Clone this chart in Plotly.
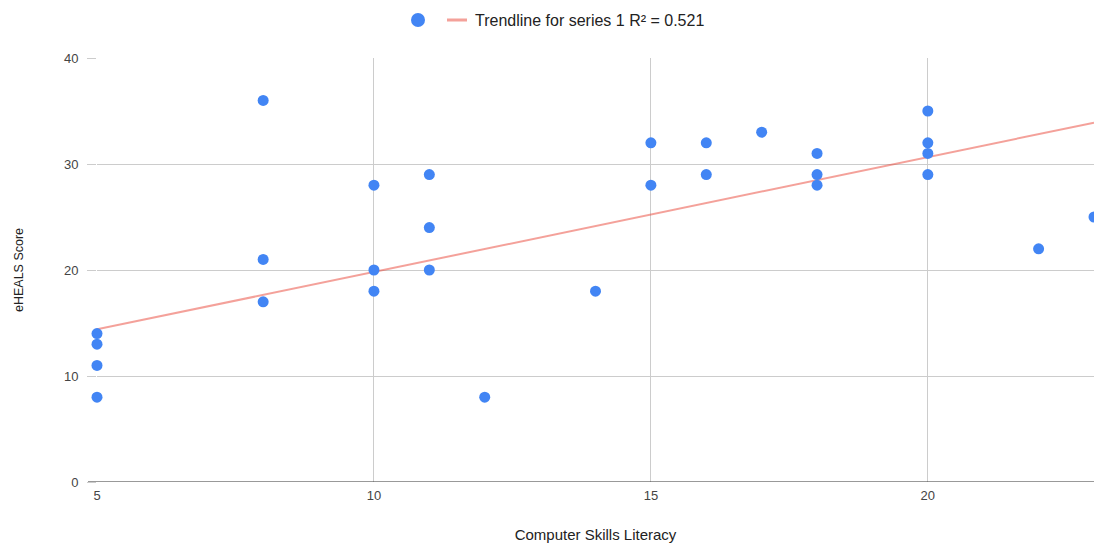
import plotly.graph_objects as go

computer_skills = [5, 5, 5, 5, 8, 8, 8, 10, 10, 10, 11, 11, 11, 12, 14, 15, 15,
                   16, 16, 17, 18, 18, 18, 20, 20, 20, 20, 22, 23]
eheals_score = [14, 13, 11, 8, 36, 21, 17, 28, 20, 18, 29, 24, 20, 8, 18, 32, 28,
                32, 29, 33, 31, 29, 28, 35, 32, 31, 29, 22, 25]
# trendline endpoints
trend_x = [5, 23]
trend_y = [14.4, 33.9]
x_ticks = [5, 10, 15, 20]
y_ticks = [0, 10, 20, 30, 40]
trend_label = "Trendline for series 1 R² = 0.521"

FONT = "Liberation Sans, Arial, sans-serif"
W, H = 1094, 543
L, R, T, B = 97, 0, 58, 61
PW, PH = W - L - R, H - T - B


def px_x(p):
    return (p - L) / PW


def px_y(p):
    return (H - B - p) / PH


fig = go.Figure()
fig.add_trace(go.Scatter(
    x=trend_x, y=trend_y, mode="lines", name=trend_label, showlegend=False,
    line=dict(color="rgba(234,67,53,0.5)", width=2), cliponaxis=True,
))
fig.add_trace(go.Scatter(
    x=computer_skills, y=eheals_score, mode="markers", name="", showlegend=False,
    marker=dict(color="#4285F4", size=11, line=dict(width=0)), cliponaxis=False,
))

# manual legend
fig.add_shape(type="circle", xref="paper", yref="paper",
              x0=px_x(411), x1=px_x(425), y0=px_y(27), y1=px_y(13),
              fillcolor="#4285F4", line=dict(width=0))
fig.add_shape(type="line", xref="paper", yref="paper",
              x0=px_x(447), x1=px_x(467), y0=px_y(20), y1=px_y(20),
              line=dict(color="rgba(234,67,53,0.5)", width=3))
fig.add_annotation(xref="paper", yref="paper", x=px_x(473), y=px_y(20),
                   xanchor="left", yanchor="middle", showarrow=False,
                   text=trend_label, font=dict(family=FONT, size=16, color="#222222"))
# baseline extending left over the tick
fig.add_shape(type="line", xref="paper", yref="y",
              x0=px_x(88), x1=1, y0=0, y1=0,
              line=dict(color="#333333", width=1), layer="above")

fig.update_layout(
    width=W, height=H,
    margin=dict(l=L, r=R, t=T, b=B),
    paper_bgcolor="white", plot_bgcolor="white",
    font=dict(family=FONT, size=13, color="#222222"),
    showlegend=False,
    xaxis=dict(
        range=[5, 23], tickvals=x_ticks, ticktext=[str(v) for v in x_ticks],
        showgrid=True, gridcolor="#cccccc", gridwidth=1,
        zeroline=False, showline=False, automargin=False,
        ticks="", ticklabelstandoff=4,
        tickfont=dict(size=13, color="#444444"),
        title=dict(text="Computer Skills Literacy", font=dict(size=15, color="#222222"), standoff=27),
    ),
    yaxis=dict(
        range=[0, 40], tickvals=y_ticks, ticktext=[str(v) for v in y_ticks],
        showgrid=True, gridcolor="#cccccc", gridwidth=1,
        zeroline=False, showline=False, automargin=False,
        ticks="outside", ticklen=9, tickcolor="#cccccc", ticklabelstandoff=6,
        tickfont=dict(size=13, color="#444444"),
        title=dict(text="eHEALS Score", font=dict(size=12.5, color="#222222"), standoff=37),
    ),
)

fig.write_html("out.html", config={"displayModeBar": False},
               post_script="document.body.style.margin='0';document.body.style.overflow='hidden';")
